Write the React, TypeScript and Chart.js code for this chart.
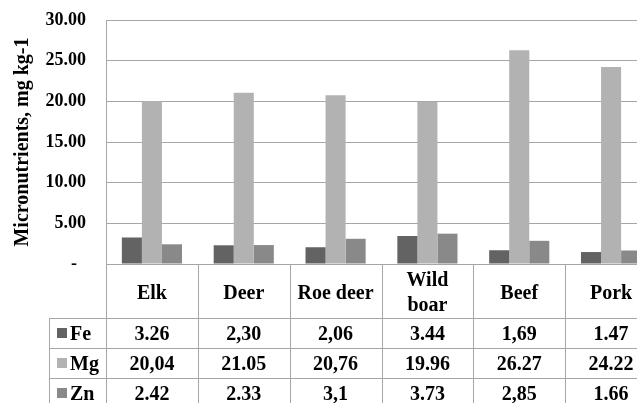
import React, { useEffect, useRef } from 'react';
import { Chart, registerables } from 'chart.js';

Chart.register(...registerables);

// ---- data ----
const categoryLines: string[][] = [['Elk'], ['Deer'], ['Roe deer'], ['Wild', 'boar'], ['Beef'], ['Pork']];
const feText = ['3.26', '2,30', '2,06', '3.44', '1,69', '1.47'];
const mgText = ['20,04', '21.05', '20,76', '19.96', '26.27', '24.22'];
const znText = ['2.42', '2.33', '3,1', '3.73', '2,85', '1.66'];
const seriesNames = ['Fe', 'Mg', 'Zn'];
const seriesColors = ['#636363', '#b2b2b2', '#898989'];
const yMin = 0;
const yMax = 30;
const yStep = 5;
const yTitle = 'Micronutrients, mg kg-1';

const toNum = (s: string) => parseFloat(s.replace(',', '.'));
const tableRows = [feText, mgText, znText];

const FONT = '"Liberation Serif", "Times New Roman", serif';
const GRID = '#a6a6a6';

const tablePlugin = {
  id: 'dataTable',
  afterDraw(chart: any) {
    const { ctx, chartArea, scales } = chart;
    const x = scales.x;
    const n = categoryLines.length;
    const colW = x.getPixelForValue(1) - x.getPixelForValue(0);
    const left0 = x.getPixelForValue(0) - colW / 2;
    const headerBottom = chartArea.bottom + 54;
    const rowH = 30;
    const tableLeft = 49;
    const tableBottom = headerBottom + tableRows.length * rowH;
    ctx.save();
    ctx.strokeStyle = GRID;
    ctx.lineWidth = 1;
    ctx.beginPath();
    for (let i = 0; i <= n; i++) {
      const xx = Math.round(left0 + i * colW) + 0.5;
      ctx.moveTo(xx, chartArea.bottom);
      ctx.lineTo(xx, tableBottom);
    }
    ctx.moveTo(tableLeft + 0.5, headerBottom);
    ctx.lineTo(tableLeft + 0.5, tableBottom);
    for (let r = 0; r <= tableRows.length; r++) {
      const yy = Math.round(headerBottom + r * rowH) + 0.5;
      ctx.moveTo(tableLeft, yy);
      ctx.lineTo(left0 + n * colW, yy);
    }
    ctx.stroke();

    ctx.font = `bold 20px ${FONT}`;
    ctx.textBaseline = 'middle';
    tableRows.forEach((row, r) => {
      const cy = headerBottom + r * rowH + rowH / 2;
      ctx.fillStyle = seriesColors[r];
      ctx.fillRect(57, cy - 5, 10, 10);
      ctx.fillStyle = '#000';
      ctx.textAlign = 'left';
      ctx.fillText(seriesNames[r], 70, cy + 2);
      ctx.textAlign = 'center';
      row.forEach((s, i) => ctx.fillText(s, x.getPixelForValue(i), cy + 2));
    });
    ctx.restore();
  },
};

export default function App() {
  const ref = useRef<HTMLCanvasElement | null>(null);
  useEffect(() => {
    if (!ref.current) return;
    const chart = new Chart(ref.current, {
      type: 'bar',
      data: {
        labels: categoryLines as any,
        datasets: tableRows.map((row, i) => ({
          label: seriesNames[i],
          data: row.map(toNum),
          backgroundColor: seriesColors[i],
          borderWidth: 0,
          categoryPercentage: 0.655,
          barPercentage: 1,
        })),
      },
      options: {
        responsive: false,
        animation: false,
        devicePixelRatio: 1,
        layout: { padding: { top: 20, right: 3, left: 0, bottom: 0 } },
        plugins: { legend: { display: false }, tooltip: { enabled: false } },
        scales: {
          x: {
            grid: { display: false },
            border: { display: true, color: GRID },
            ticks: {
              font: { family: FONT, size: 20, weight: 'bold', lineHeight: 1.25 },
              color: '#000',
              padding: 9,
              crossAlign: 'center',
              maxRotation: 0,
              minRotation: 0,
              autoSkip: false,
            },
            afterFit: (s: any) => {
              s.height = 146;
            },
          },
          y: {
            min: yMin,
            max: yMax,
            ticks: {
              stepSize: yStep,
              callback: (v: any) => (Number(v) === 0 ? '-  ' : Number(v).toFixed(2)),
              font: { family: FONT, size: 18, weight: 'bold' },
              color: '#000',
              padding: 20,
            },
            grid: { color: GRID, drawTicks: false },
            border: { display: true, color: GRID },
            title: {
              display: true,
              text: yTitle,
              font: { family: FONT, size: 20, weight: 'bold' },
              color: '#000',
              padding: { top: 11, bottom: 0 },
            },
            afterFit: (s: any) => {
              s.width = 106;
              s.paddingTop = 0;
              s.paddingBottom = 0;
            },
          },
        },
      } as any,
      plugins: [tablePlugin],
    });
    return () => chart.destroy();
  }, []);

  return (
    <div
      style={{
        position: 'fixed',
        left: 0,
        top: 0,
        width: 637,
        height: 403,
        overflow: 'hidden',
        background: '#fff',
      }}
    >
      <canvas ref={ref} width={660} height={410} style={{ display: 'block' }} />
    </div>
  );
}
